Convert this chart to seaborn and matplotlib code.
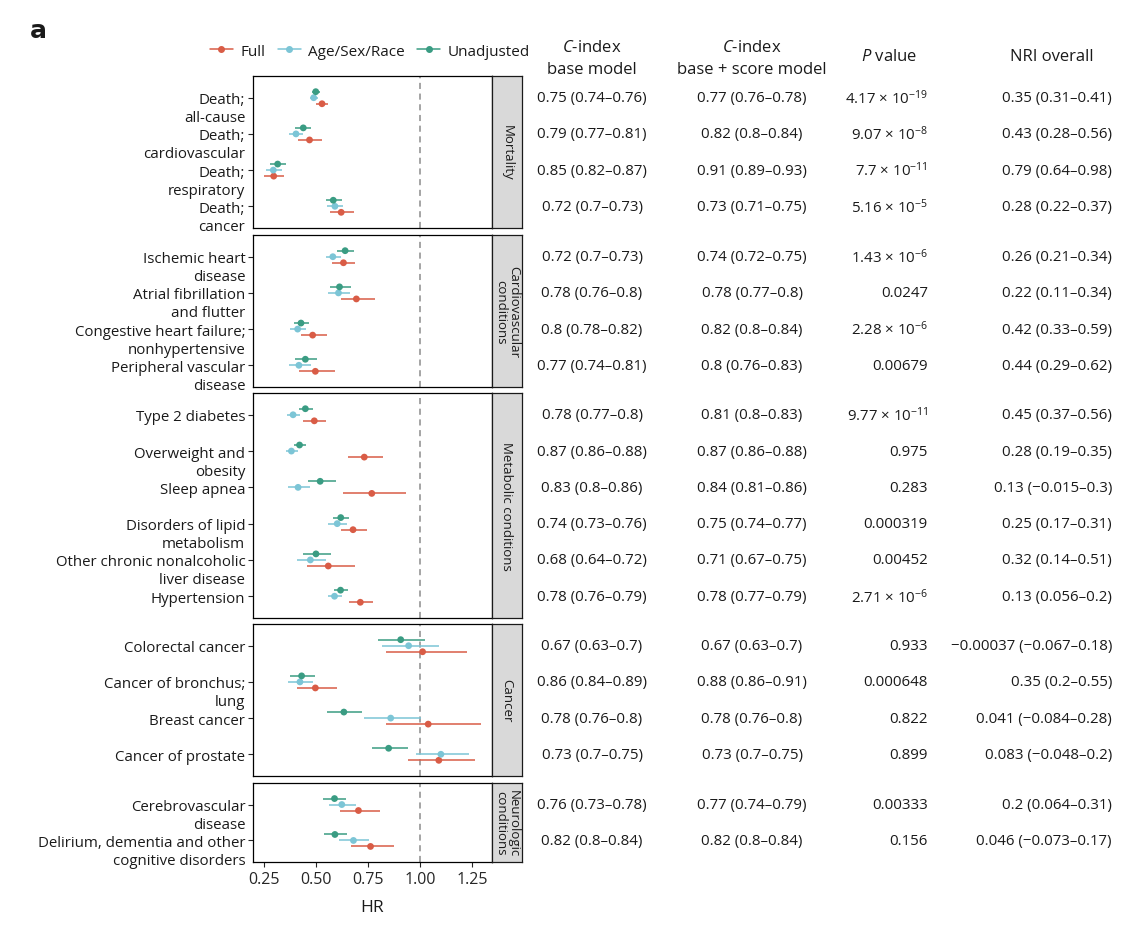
import numpy as np
import pandas as pd
import matplotlib
matplotlib.use('Agg')
import matplotlib.pyplot as plt
import matplotlib.transforms as mtransforms
from matplotlib.lines import Line2D
import seaborn as sns

# ---- data ----
groups = ['Mortality', 'Cardiovascular\nconditions', 'Metabolic conditions', 'Cancer', 'Neurologic\nconditions']
group_sizes = [4, 4, 6, 4, 2]

outcomes = ['Death;\nall-cause', 'Death;\ncardiovascular', 'Death;\nrespiratory', 'Death;\ncancer',
            'Ischemic heart\ndisease', 'Atrial fibrillation\nand flutter',
            'Congestive heart failure;\nnonhypertensive', 'Peripheral vascular\ndisease',
            'Type 2 diabetes', 'Overweight and\nobesity', 'Sleep apnea', 'Disorders of lipid\nmetabolism',
            'Other chronic nonalcoholic\nliver disease', 'Hypertension',
            'Colorectal cancer', 'Cancer of bronchus;\nlung', 'Breast cancer', 'Cancer of prostate',
            'Cerebrovascular\ndisease', 'Delirium, dementia and other\ncognitive disorders']

hr_full = [0.53, 0.47, 0.298, 0.622, 0.633, 0.695, 0.485, 0.498, 0.493, 0.733, 0.769, 0.679, 0.56, 0.714,
           1.013, 0.498, 1.04, 1.091, 0.705, 0.763]
lo_full = [0.50, 0.416, 0.253, 0.566, 0.579, 0.619, 0.427, 0.421, 0.441, 0.655, 0.632, 0.619, 0.458, 0.66,
           0.837, 0.41, 0.837, 0.941, 0.617, 0.667]
hi_full = [0.56, 0.53, 0.349, 0.683, 0.689, 0.783, 0.552, 0.592, 0.549, 0.824, 0.933, 0.746, 0.688, 0.775,
           1.228, 0.601, 1.292, 1.265, 0.809, 0.876]

hr_age = [0.49, 0.405, 0.296, 0.592, 0.582, 0.609, 0.413, 0.419, 0.391, 0.383, 0.415, 0.603, 0.474, 0.59,
          0.946, 0.424, 0.86, 1.101, 0.625, 0.681]
lo_age = [0.47, 0.373, 0.263, 0.553, 0.547, 0.56, 0.376, 0.37, 0.362, 0.355, 0.367, 0.561, 0.41, 0.558,
          0.82, 0.368, 0.733, 0.981, 0.563, 0.614]
hi_age = [0.51, 0.44, 0.338, 0.633, 0.62, 0.664, 0.453, 0.477, 0.422, 0.413, 0.474, 0.649, 0.547, 0.625,
          1.093, 0.486, 1.005, 1.236, 0.692, 0.755]

hr_unadj = [0.50, 0.44, 0.317, 0.584, 0.641, 0.614, 0.429, 0.45, 0.45, 0.422, 0.521, 0.62, 0.501, 0.619,
            0.908, 0.432, 0.635, 0.85, 0.59, 0.592]
lo_unadj = [0.48, 0.40, 0.282, 0.549, 0.603, 0.568, 0.394, 0.398, 0.418, 0.394, 0.461, 0.584, 0.437, 0.588,
            0.799, 0.378, 0.556, 0.769, 0.536, 0.539]
hi_unadj = [0.52, 0.475, 0.359, 0.625, 0.683, 0.667, 0.469, 0.507, 0.485, 0.453, 0.595, 0.662, 0.573, 0.654,
            1.027, 0.494, 0.724, 0.941, 0.646, 0.649]

cidx_base = ['0.75 (0.74–0.76)', '0.79 (0.77–0.81)', '0.85 (0.82–0.87)', '0.72 (0.7–0.73)',
             '0.72 (0.7–0.73)', '0.78 (0.76–0.8)', '0.8 (0.78–0.82)', '0.77 (0.74–0.81)',
             '0.78 (0.77–0.8)', '0.87 (0.86–0.88)', '0.83 (0.8–0.86)', '0.74 (0.73–0.76)',
             '0.68 (0.64–0.72)', '0.78 (0.76–0.79)', '0.67 (0.63–0.7)', '0.86 (0.84–0.89)',
             '0.78 (0.76–0.8)', '0.73 (0.7–0.75)', '0.76 (0.73–0.78)', '0.82 (0.8–0.84)']
cidx_score = ['0.77 (0.76–0.78)', '0.82 (0.8–0.84)', '0.91 (0.89–0.93)', '0.73 (0.71–0.75)',
              '0.74 (0.72–0.75)', '0.78 (0.77–0.8)', '0.82 (0.8–0.84)', '0.8 (0.76–0.83)',
              '0.81 (0.8–0.83)', '0.87 (0.86–0.88)', '0.84 (0.81–0.86)', '0.75 (0.74–0.77)',
              '0.71 (0.67–0.75)', '0.78 (0.77–0.79)', '0.67 (0.63–0.7)', '0.88 (0.86–0.91)',
              '0.78 (0.76–0.8)', '0.73 (0.7–0.75)', '0.77 (0.74–0.79)', '0.82 (0.8–0.84)']
pvals = ['4.17 × 10$^{-19}$', '9.07 × 10$^{-8}$', '7.7 × 10$^{-11}$', '5.16 × 10$^{-5}$',
         '1.43 × 10$^{-6}$', '0.0247', '2.28 × 10$^{-6}$', '0.00679',
         '9.77 × 10$^{-11}$', '0.975', '0.283', '0.000319', '0.00452', '2.71 × 10$^{-6}$',
         '0.933', '0.000648', '0.822', '0.899', '0.00333', '0.156']
nri = ['0.35 (0.31–0.41)', '0.43 (0.28–0.56)', '0.79 (0.64–0.98)', '0.28 (0.22–0.37)',
       '0.26 (0.21–0.34)', '0.22 (0.11–0.34)', '0.42 (0.33–0.59)', '0.44 (0.29–0.62)',
       '0.45 (0.37–0.56)', '0.28 (0.19–0.35)', '0.13 (−0.015–0.3)', '0.25 (0.17–0.31)',
       '0.32 (0.14–0.51)', '0.13 (0.056–0.2)', '−0.00037 (−0.067–0.18)', '0.35 (0.2–0.55)',
       '0.041 (−0.084–0.28)', '0.083 (−0.048–0.2)', '0.2 (0.064–0.31)', '0.046 (−0.073–0.17)']

models = ['Full', 'Age/Sex/Race', 'Unadjusted']
palette = {'Full': '#D95C46', 'Age/Sex/Race': '#7CC5D6', 'Unadjusted': '#3A9C83'}
dodge = {'Full': 1 / 6, 'Age/Sex/Race': 0.0, 'Unadjusted': -1 / 6}

# ---- long table ----
group_col = np.repeat(groups, group_sizes)
row_in_group = np.concatenate([np.arange(n) for n in group_sizes])
frames = []
for m, hr, lo, hi in [('Full', hr_full, lo_full, hi_full),
                      ('Age/Sex/Race', hr_age, lo_age, hi_age),
                      ('Unadjusted', hr_unadj, lo_unadj, hi_unadj)]:
    frames.append(pd.DataFrame({'group': group_col, 'outcome': outcomes, 'row': row_in_group,
                                'model': m, 'hr': hr, 'lo': lo, 'hi': hi}))
df = pd.concat(frames, ignore_index=True)
df['ypos'] = df['row'] + df['model'].map(dodge)

table = pd.DataFrame({'group': group_col, 'row': row_in_group, 'outcome': outcomes,
                      'base': cidx_base, 'score': cidx_score, 'p': pvals, 'nri': nri})

# ---- styling ----
sns.set_style('ticks')
plt.rcParams['font.family'] = ['Open Sans', 'DejaVu Sans']
plt.rcParams['mathtext.fontset'] = 'custom'
plt.rcParams['mathtext.rm'] = 'Open Sans'
plt.rcParams['mathtext.it'] = 'Open Sans:italic'
plt.rcParams['text.color'] = '#1a1a1a'

W, H = 1138, 928
fig = plt.figure(figsize=(W / 100, H / 100), dpi=100)

# panel extents in pixels (top, bottom)
panel_px = [(77, 229), (236, 388), (394, 619), (625, 777), (784, 863)]
x_left, x_right, strip_right = 253.3, 491.7, 522.0

col_base, col_score, col_p, col_nri = 592, 752, 928, 1112
fs = 10.8
line_h = 18 / 100  # inches between label lines

for gi, (g, (top, bot)) in enumerate(zip(groups, panel_px)):
    n = group_sizes[gi]
    ax = fig.add_axes([x_left / W, 1 - bot / H, (x_right - x_left) / W, (bot - top) / H])
    sub = df[df['group'] == g]

    for m in models[::-1]:
        s = sub[sub['model'] == m]
        ax.hlines(s['ypos'], s['lo'], s['hi'], color=palette[m], lw=1.1, zorder=2)
    sns.scatterplot(data=sub, x='hr', y='ypos', hue='model', palette=palette, hue_order=models,
                    s=24, edgecolor='none', legend=False, zorder=3, ax=ax)

    ax.axvline(1.0, color='#8c8c8c', lw=1.1, ls=(0, (4, 3)), zorder=1)
    ax.set_xlim(0.2, 1.345)
    ax.set_ylim(n - 0.4, -0.6)
    tb = table[table['group'] == g]
    ax.set_yticks(tb['row'])
    ax.set_yticklabels([])
    ax.tick_params(axis='y', length=3.5, width=0.8, pad=3)

    # outcome labels: first line level with the tick, following lines below
    for _, r in tb.iterrows():
        for li, line in enumerate(r['outcome'].split('\n')):
            off = mtransforms.ScaledTranslation(-8 / 100, -li * line_h, fig.dpi_scale_trans)
            ax.text(0, r['row'], line, transform=ax.get_yaxis_transform() + off,
                    ha='right', va='center_baseline', fontsize=fs)

    ax.set_xticks([0.25, 0.5, 0.75, 1.0, 1.25])
    if gi == len(groups) - 1:
        ax.set_xticklabels(['0.25', '0.50', '0.75', '1.00', '1.25'], fontsize=11.5)
        ax.tick_params(axis='x', length=3.5, width=0.8, pad=3)
    else:
        ax.tick_params(axis='x', length=0, labelbottom=False)
    ax.set_xlabel('')
    ax.set_ylabel('')
    for sp in ax.spines.values():
        sp.set_color('black')
        sp.set_linewidth(0.9)

    # facet strip
    sax = fig.add_axes([x_right / W, 1 - bot / H, (strip_right - x_right) / W, (bot - top) / H])
    sax.set_facecolor('#d9d9d9')
    sax.set_xticks([])
    sax.set_yticks([])
    for sp in sax.spines.values():
        sp.set_color('#1a1a1a')
        sp.set_linewidth(0.9)
    sax.text(0.5, 0.5, g, rotation=270, ha='center', va='center', fontsize=9.5,
             transform=sax.transAxes, linespacing=1.0)

    # table columns on the right
    tr = mtransforms.blended_transform_factory(fig.transFigure, ax.transData)
    for _, r in tb.iterrows():
        y = r['row']
        ax.text(col_base / W, y, r['base'], transform=tr, ha='center', va='center', fontsize=fs)
        ax.text(col_score / W, y, r['score'], transform=tr, ha='center', va='center', fontsize=fs)
        ax.text(col_p / W, y, r['p'], transform=tr, ha='right', va='center', fontsize=fs)
        ax.text(col_nri / W, y, r['nri'], transform=tr, ha='right', va='center', fontsize=fs)

# headers
hfs = 12
fig.text(col_base / W, 1 - 48 / H, '$\\mathit{C}$-index', ha='center', va='center', fontsize=hfs)
fig.text(col_base / W, 1 - 70 / H, 'base model', ha='center', va='center', fontsize=hfs)
fig.text(col_score / W, 1 - 48 / H, '$\\mathit{C}$-index', ha='center', va='center', fontsize=hfs)
fig.text(col_score / W, 1 - 70 / H, 'base + score model', ha='center', va='center', fontsize=hfs)
fig.text(889 / W, 1 - 57 / H, '$\\mathit{P}$ value', ha='center', va='center', fontsize=hfs)
fig.text(1052 / W, 1 - 57 / H, 'NRI overall', ha='center', va='center', fontsize=hfs)

# legend
handles = [Line2D([0], [0], color=palette[m], marker='o', markersize=4, lw=1.1) for m in models]
fig.legend(handles, models, ncol=3, loc='center', bbox_to_anchor=(370 / W, 1 - 52 / H),
           frameon=False, fontsize=11, handlelength=1.5, handletextpad=0.5, columnspacing=0.8)

fig.text(372 / W, 1 - 908 / H, 'HR', ha='center', va='center', fontsize=12.5)
fig.text(30 / W, 1 - 31 / H, 'a', ha='left', va='center', fontsize=18, fontweight='bold',
         family='DejaVu Sans')

fig.savefig('out.png', dpi=100)
